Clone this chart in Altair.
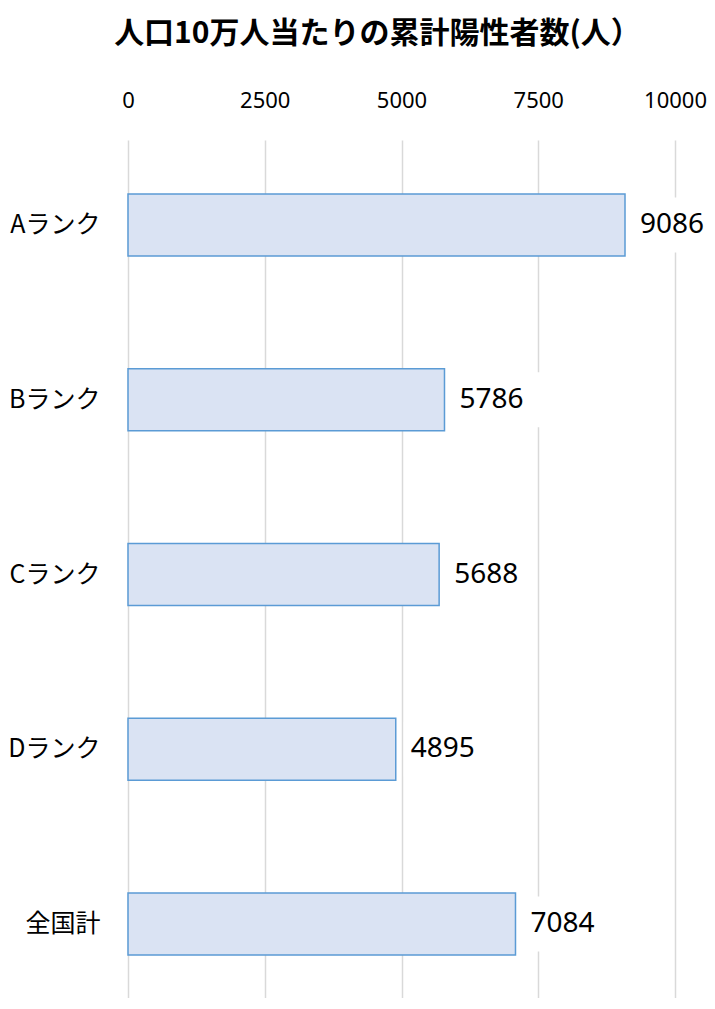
import altair as alt
import pandas as pd

categories = ["Aランク", "Bランク", "Cランク", "Dランク", "全国計"]
values = [9086, 5786, 5688, 4895, 7084]
tick_values = [0, 2500, 5000, 7500, 10000]

df = pd.DataFrame({"category": categories, "value": values})

y_enc = alt.Y(
    "category:N",
    sort=categories,
    title=None,
    scale=alt.Scale(paddingInner=0.645, paddingOuter=0.2775, align=0.557),
    axis=alt.Axis(
        domain=False,
        ticks=False,
        labelFont="Noto Sans CJK JP",
        labelFontSize=25,
        labelColor="#000000",
        labelPadding=28,
        labelLimit=200,
    ),
)

x_enc = alt.X(
    "value:Q",
    title=None,
    scale=alt.Scale(domain=[0, 10000], nice=False),
    axis=alt.Axis(
        orient="top",
        values=tick_values,
        domain=False,
        ticks=False,
        grid=True,
        gridColor="#D9D9D9",
        gridWidth=1.5,
        labelFont="Noto Sans",
        labelFontSize=22,
        labelColor="#000000",
        labelPadding=28,
        labelFlush=False,
        format="d",
    ),
)

bars = alt.Chart(df).mark_bar(
    fill="#DAE3F3", stroke="#5B9BD5", strokeWidth=1.5
).encode(x=x_enc, y=y_enc)

label_bg = alt.Chart(df).mark_bar(
    color="white", height=55, xOffset=8, x2Offset=96
).encode(
    x=alt.X("value:Q"),
    x2="value:Q",
    y=alt.Y("category:N", sort=categories),
)

labels = alt.Chart(df).mark_text(
    align="left", baseline="middle", dx=15, font="Noto Sans", fontSize=28, color="#000000"
).encode(
    x=alt.X("value:Q"),
    y=alt.Y("category:N", sort=categories),
    text=alt.Text("value:Q", format="d"),
)

chart = alt.layer(bars, label_bg, labels).properties(
    width=547,
    height=858,
    title=alt.Title(
        "人口10万人当たりの累計陽性者数(人）",
        font="Noto Sans CJK JP",
        fontSize=30,
        fontWeight="bold",
        color="#000000",
        anchor="middle",
        frame="group",
        dx=-24,
        offset=40,
    ),
    autosize=alt.AutoSizeParams(type="none"),
    padding={"left": 120, "top": 132, "right": 32, "bottom": 0},
).configure_view(stroke=None)

chart.save("out.html", embed_options={"renderer": "svg", "actions": False})
